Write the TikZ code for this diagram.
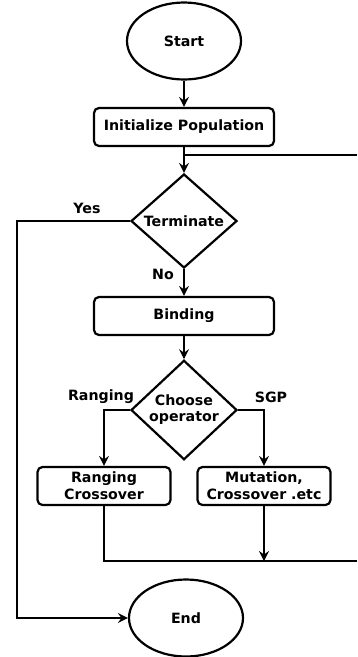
\documentclass[tikz,border=0pt]{standalone}
\usepackage{fontspec}
\setmainfont{DejaVu Sans}
\usetikzlibrary{arrows.meta,positioning,shapes.geometric,calc}

\begin{document}
\begin{tikzpicture}[x=1pt, y=-1pt, every node/.style={font=\fontsize{14.2}{17}\selectfont\bfseries},
  stepbox/.style={rounded corners=5pt, draw, line width=2.2pt, minimum width=180pt, minimum height=38pt, align=center, inner sep=0pt},
  smallbox/.style={stepbox, minimum width=133pt},
  terminal/.style={ellipse, draw, line width=2.2pt, minimum width=114pt, minimum height=77pt, inner sep=0pt},
  decision/.style={diamond, draw, line width=2.2pt, minimum width=106pt, minimum height=94pt, inner sep=0pt, align=center},
  flow/.style={-{Stealth[length=10pt, width=10pt, inset=3.5pt]}, line width=1.4pt},
  wire/.style={line width=1.4pt}]
\useasboundingbox (0,0) rectangle (357,657);
% Nodes
\node[terminal] (start) at (184,41) {Start};
\node[stepbox] (init) at (184,127) {Initialize Population};
\node[decision] (term) at (184,221) {Terminate};
\node[stepbox] (bind) at (184,316) {Binding};
\node[decision] (choose) at (184,410) {Choose\\[-1pt]operator};
\node[smallbox] (rang) at (104,486) {Ranging\\Crossover};
\node[smallbox] (mut) at (264,486) {Mutation,\\Crossover .etc};
\node[terminal] (end) at (186,618) {End};
% Loop back
\coordinate (loopr) at (357,155);
\coordinate (botr) at (357,561);
% Arrows
\foreach \a/\b in {start/init, init/term, term/bind, bind/choose} {
  \draw[flow] (\a) -- (\b);
}
\draw[wire] (loopr) -- (loopr -| init.south);
\draw[flow] (term.west) -- ++(-113,0) |- (end.west);
\draw[flow] (choose.west) -| (rang.north);
\draw[flow] (choose.east) -| (mut.north);
\draw[wire] (rang.south) |- (botr);
\draw[flow] (mut.south) -- (mut.south |- botr);
% Labels
\node (yes) at (87,208) {Yes};
\node (no) at (163,274) {No};
\node (lrang) at (101,397) {Ranging};
\node (lsgp) at (271,397) {SGP};
\end{tikzpicture}
\end{document}
